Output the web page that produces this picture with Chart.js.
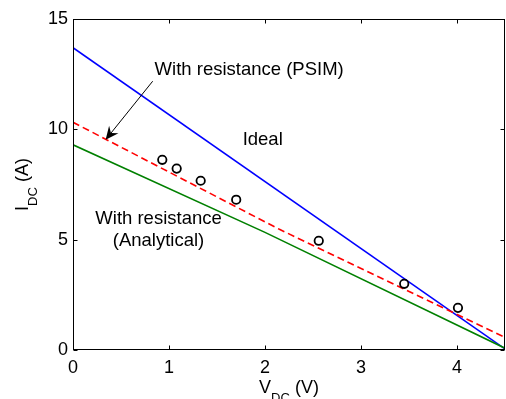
<!DOCTYPE html>
<html>
<head>
<meta charset="utf-8">
<script src="https://cdn.jsdelivr.net/npm/chart.js@4/dist/chart.umd.min.js"></script>
<style>
  html, body { margin: 0; padding: 0; background: #fff; }
  #wrap { width: 506px; height: 399px; }
</style>
</head>
<body>
<div id="wrap"><canvas id="c" width="506" height="399"></canvas></div>
<script>
// ---- data ----
const xTicks = [0, 1, 2, 3, 4];
const yTicks = [0, 5, 10, 15];

const idealV = [0, 4.5];
const idealI = [13.7, 0.05];

const psimV = [0, 2.15, 4.5];
const psimI = [10.32, 5.47, 0.57];

const anaV = [0, 2, 4.5];
const anaI = [9.3, 5.33, 0.08];

const measV = [0.93, 1.08, 1.33, 1.70, 2.56, 3.45, 4.01];
const measI = [8.62, 8.22, 7.67, 6.81, 4.95, 3.0, 1.91];

const FONT = '"Liberation Sans", Arial, Helvetica, sans-serif';

function pts(xs, ys) { return xs.map((x, i) => ({ x: x, y: ys[i] })); }

const framePlugin = {
  id: 'frame',
  afterDraw(chart) {
    const ctx = chart.ctx;
    const a = chart.chartArea;
    const xs = chart.scales.x, ys = chart.scales.y;
    const L = Math.round(a.left) + 0.5, R = Math.round(a.right) - 0.5;
    const T = Math.round(a.top) + 0.5, B = Math.round(a.bottom) - 0.5;
    ctx.save();
    ctx.strokeStyle = '#000';
    ctx.lineWidth = 1;
    ctx.strokeRect(L, T, R - L, B - T);
    const tl = 4;
    ctx.beginPath();
    xTicks.forEach(v => {
      const px = Math.round(xs.getPixelForValue(v)) + 0.5;
      ctx.moveTo(px, B); ctx.lineTo(px, B - tl);
      ctx.moveTo(px, T); ctx.lineTo(px, T + tl);
    });
    yTicks.forEach(v => {
      const py = Math.round(ys.getPixelForValue(v)) + 0.5;
      ctx.moveTo(L, py); ctx.lineTo(L + tl, py);
      ctx.moveTo(R, py); ctx.lineTo(R - tl, py);
    });
    ctx.stroke();

    // axis titles with subscripts
    ctx.fillStyle = '#000';
    ctx.textBaseline = 'alphabetic';
    ctx.textAlign = 'left';
    const big = '18px ' + FONT, small = '13px ' + FONT;
    function measure(parts) {
      let w = 0;
      parts.forEach(p => { ctx.font = p[1]; w += ctx.measureText(p[0]).width; });
      return w;
    }
    function drawParts(parts, x0, y0) {
      let x = x0;
      parts.forEach(p => {
        ctx.font = p[1];
        ctx.fillText(p[0], x, y0 + p[2]);
        x += ctx.measureText(p[0]).width;
      });
    }
    const xt = [['V', big, 0], ['DC', small, 9], [' (V)', big, 0]];
    const xw = measure(xt);
    drawParts(xt, (a.left + a.right) / 2 - xw / 2, 393);

    const yt = [['I', big, 0], ['DC', small, 9], [' (A)', big, 0]];
    const yw = measure(yt);
    ctx.save();
    ctx.translate(28, (a.top + a.bottom) / 2);
    ctx.rotate(-Math.PI / 2);
    drawParts(yt, -yw / 2, 0);
    ctx.restore();

    // annotations
    ctx.font = '18.5px ' + FONT;
    ctx.textBaseline = 'middle';
    ctx.textAlign = 'left';
    ctx.fillText('With resistance (PSIM)', xs.getPixelForValue(0.85), ys.getPixelForValue(12.7));
    ctx.fillText('Ideal', xs.getPixelForValue(1.767), ys.getPixelForValue(9.53));
    ctx.textAlign = 'center';
    ctx.fillText('With resistance', xs.getPixelForValue(0.891), ys.getPixelForValue(5.95));
    ctx.fillText('(Analytical)', xs.getPixelForValue(0.891), ys.getPixelForValue(4.95));

    // arrow
    const x1 = xs.getPixelForValue(0.83), y1 = ys.getPixelForValue(12.18);
    const x2 = xs.getPixelForValue(0.34), y2 = ys.getPixelForValue(9.53);
    const ang = Math.atan2(y2 - y1, x2 - x1);
    const hl = 13, hw = 6;
    ctx.beginPath();
    ctx.moveTo(x1, y1);
    ctx.lineTo(x2 - Math.cos(ang) * hl * 0.6, y2 - Math.sin(ang) * hl * 0.6);
    ctx.lineWidth = 1;
    ctx.stroke();
    ctx.beginPath();
    const bx = x2 - Math.cos(ang) * hl, by = y2 - Math.sin(ang) * hl;
    const nx = -Math.sin(ang), ny = Math.cos(ang);
    ctx.moveTo(x2, y2);
    ctx.lineTo(bx + nx * hw, by + ny * hw);
    ctx.lineTo(x2 - Math.cos(ang) * hl * 0.65, y2 - Math.sin(ang) * hl * 0.65);
    ctx.lineTo(bx - nx * hw, by - ny * hw);
    ctx.closePath();
    ctx.fill();
    ctx.restore();
  }
};

new Chart(document.getElementById('c'), {
  type: 'scatter',
  data: {
    datasets: [
      { label: 'Ideal', data: pts(idealV, idealI), showLine: true, borderColor: '#0000ff',
        borderWidth: 1.6, pointRadius: 0, fill: false, order: 3 },
      { label: 'With resistance (PSIM)', data: pts(psimV, psimI), showLine: true, borderColor: '#ff0000',
        borderWidth: 1.6, borderDash: [7, 4], pointRadius: 0, fill: false, order: 2 },
      { label: 'With resistance (Analytical)', data: pts(anaV, anaI), showLine: true, borderColor: '#008000',
        borderWidth: 1.6, pointRadius: 0, fill: false, order: 1 },
      { label: 'Measured', data: pts(measV, measI), showLine: false, borderColor: '#000',
        backgroundColor: 'rgba(0,0,0,0)', pointRadius: 4.2, pointBorderWidth: 1.8, clip: false, order: 0 }
    ]
  },
  options: {
    responsive: false,
    animation: false,
    devicePixelRatio: 1,
    layout: { autoPadding: false, padding: { top: 19, right: 1, bottom: 0, left: 0 } },
    plugins: { legend: { display: false }, tooltip: { enabled: false } },
    scales: {
      x: {
        type: 'linear', min: 0, max: 4.5,
        afterBuildTicks: s => { s.ticks = xTicks.map(v => ({ value: v })); },
        afterFit: s => { s.height = 49; s.paddingLeft = 0; s.paddingRight = 0; },
        grid: { display: false, drawTicks: false },
        border: { display: false },
        ticks: { color: '#000', font: { family: FONT, size: 18 }, padding: 7, maxRotation: 0 }
      },
      y: {
        type: 'linear', min: 0, max: 15,
        afterBuildTicks: s => { s.ticks = yTicks.map(v => ({ value: v })); },
        afterFit: s => { s.width = 73; s.paddingTop = 0; s.paddingBottom = 0; },
        grid: { display: false, drawTicks: false },
        border: { display: false },
        ticks: { color: '#000', font: { family: FONT, size: 18 }, padding: 5 }
      }
    }
  },
  plugins: [framePlugin]
});
</script>
</body>
</html>
